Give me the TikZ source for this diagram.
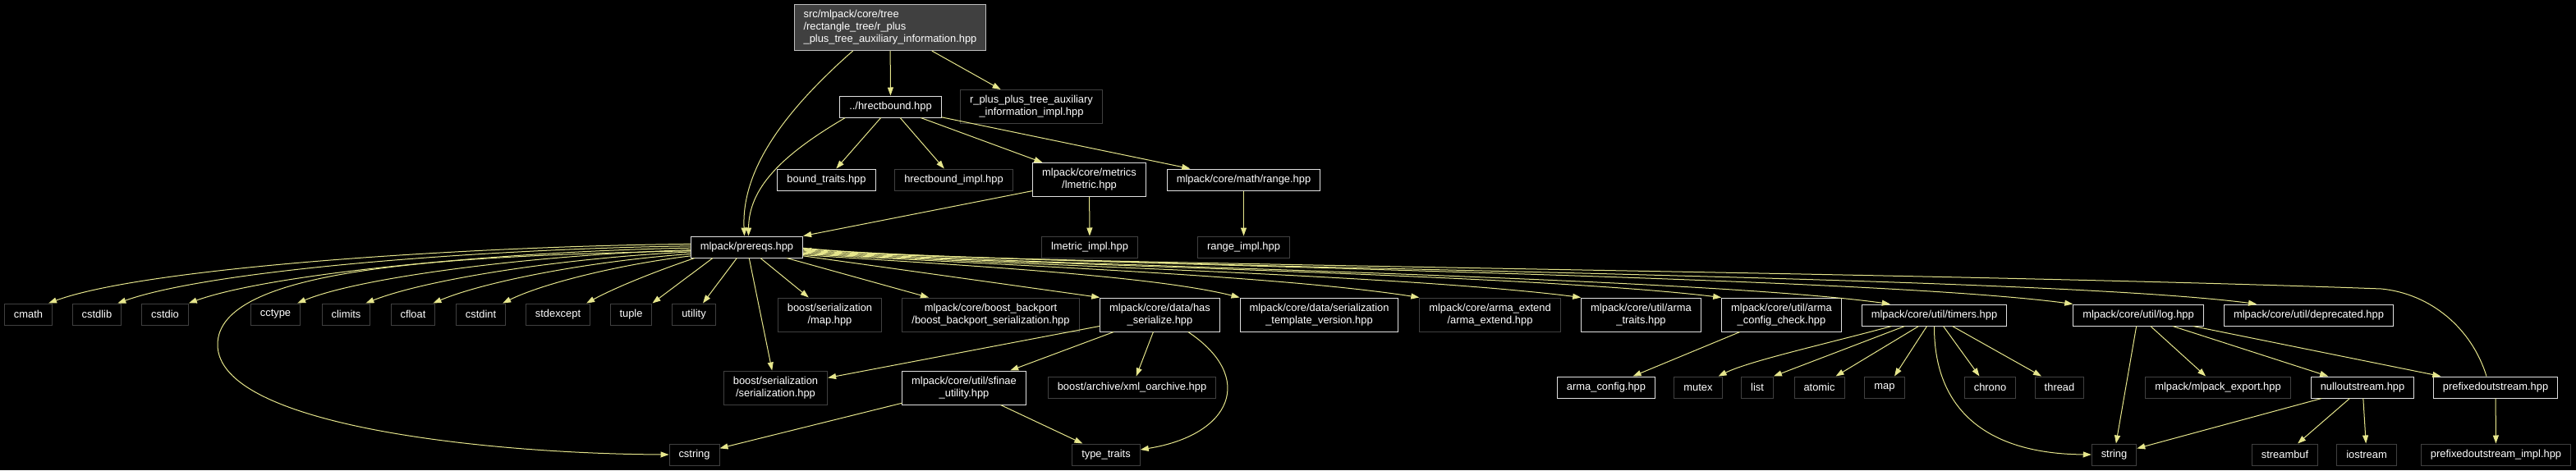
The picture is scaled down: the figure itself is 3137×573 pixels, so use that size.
\documentclass[tikz,border=0pt]{standalone}
\usepackage{fontspec}
\setmainfont{Liberation Sans}
\usepackage{xcolor}
\usepackage{tikz}
\usetikzlibrary{arrows.meta,calc}
\definecolor{depcol}{RGB}{230,230,140}
\tikzstyle{file}=[rectangle,draw=white!88!black,fill=black,text=white,line width=1pt,inner xsep=11.5pt,inner ysep=3pt,minimum height=26pt,align=center,font=\fontsize{12.9}{15}\selectfont]
\tikzstyle{extfile}=[file,draw=gray!50!black]
\tikzstyle{mainfile}=[file,fill=gray!50!black,draw=gray!50!white,align=left,minimum height=56pt]
\tikzstyle{twoline}=[minimum height=41pt]
\tikzstyle{dep}=[->,draw=depcol,fill=none,line width=1pt]

\begin{document}
\begin{tikzpicture}[x=1pt,y=-1pt,>={Triangle[length=10pt,width=7pt]}]
        \useasboundingbox (0,0) rectangle (3137,573);
        \fill [black] (0,0) rectangle (3137,573);

        \node at (1084,33.5) [mainfile] (main) {src/mlpack/core/tree\\/rectangle\_tree/r\_plus\\\_plus\_tree\_auxiliary\_information.hpp};
        \node at (1084.5,130) [file] (hrect) {../hrectbound.hpp};
        \node at (1256,130) [extfile,twoline] (rppimpl) {r\_plus\_plus\_tree\_auxiliary\\\_information\_impl.hpp};
        \node at (1006.5,219) [file] (boundtraits) {bound\_traits.hpp};
        \node at (1161.5,219) [extfile] (hrectimpl) {hrectbound\_impl.hpp};
        \node at (1326.5,219) [file,twoline] (lmetric) {mlpack/core/metrics\\/lmetric.hpp};
        \node at (1514.5,219) [file] (range) {mlpack/core/math/range.hpp};
        \node at (909.5,301) [file] (prereqs) {mlpack/prereqs.hpp};
        \node at (1327,301) [extfile] (lmetricimpl) {lmetric\_impl.hpp};
        \node at (1514.5,301) [extfile] (rangeimpl) {range\_impl.hpp};

        \node at (34.5,383) [extfile] (cmath) {cmath};
        \node at (118,383) [extfile] (cstdlib) {cstdlib};
        \node at (201,383) [extfile] (cstdio) {cstdio};
        \node at (335.5,383) [extfile] (cctype) {cctype};
        \node at (421.5,383) [extfile] (climits) {climits};
        \node at (503,383) [extfile] (cfloat) {cfloat};
        \node at (585.5,383) [extfile] (cstdint) {cstdint};
        \node at (679.5,383) [extfile] (stdexcept) {stdexcept};
        \node at (768.5,383) [extfile] (tuple) {tuple};
        \node at (845,383) [extfile] (utility) {utility};
        \node at (1010.5,383.5) [extfile,twoline] (bsermap) {boost/serialization\\/map.hpp};
        \node at (1206.5,383.5) [extfile,twoline] (backport) {mlpack/core/boost\_backport\\/boost\_backport\_serialization.hpp};
        \node at (1412.5,383.5) [file,twoline] (hasser) {mlpack/core/data/has\\\_serialize.hpp};
        \node at (1606.5,383.5) [file,twoline] (sertv) {mlpack/core/data/serialization\\\_template\_version.hpp};
        \node at (1814.5,383.5) [extfile,twoline] (armaext) {mlpack/core/arma\_extend\\/arma\_extend.hpp};
        \node at (1998.5,383.5) [file,twoline] (armatraits) {mlpack/core/util/arma\\\_traits.hpp};
        \node at (2169.5,383.5) [file,twoline] (armacc) {mlpack/core/util/arma\\\_config\_check.hpp};
        \node at (2355.5,384) [file] (timers) {mlpack/core/util/timers.hpp};
        \node at (2604,384) [file] (log) {mlpack/core/util/log.hpp};
        \node at (2811.5,384) [file] (deprecated) {mlpack/core/util/deprecated.hpp};

        \node at (944.5,472.5) [extfile,twoline] (bser) {boost/serialization\\/serialization.hpp};
        \node at (1174,472.5) [file,twoline] (sfinae) {mlpack/core/util/sfinae\\\_utility.hpp};
        \node at (1378.5,472) [extfile] (xmloa) {boost/archive/xml\_oarchive.hpp};
        \node at (1956,472) [file] (armaconfig) {arma\_config.hpp};
        \node at (2068,472) [extfile] (mutex) {mutex};
        \node at (2140,472) [extfile] (list) {list};
        \node at (2215.5,472) [extfile] (atomic) {atomic};
        \node at (2295,472) [extfile] (stdmap) {map};
        \node at (2423.5,472) [extfile] (chrono) {chrono};
        \node at (2508,472) [extfile] (thread) {thread};
        \node at (2701,472) [extfile] (mlexport) {mlpack/mlpack\_export.hpp};
        \node at (2877,472) [file] (nullout) {nulloutstream.hpp};
        \node at (3039,472) [file] (prefixed) {prefixedoutstream.hpp};

        \node at (845.5,554) [extfile] (cstring) {cstring};
        \node at (1347,554) [extfile] (typetraits) {type\_traits};
        \node at (2574.5,554) [extfile] (string) {string};
        \node at (2782.5,554) [extfile] (streambuf) {streambuf};
        \node at (2882,554) [extfile] (iostream) {iostream};
        \node at (3039.5,554) [extfile] (prefimpl) {prefixedoutstream\_impl.hpp};

        \draw [dep] (main) to (hrect);
        \draw [dep] (main) to (rppimpl);
        \draw [dep] ($(main.south west)+(72,0)$) .. controls (950,140) and (903,210) .. ($(prereqs.north)+(-3,0)$);
        \draw [dep] ($(hrect.south west)+(7,0)$) .. controls (950,190) and (912,230) .. ($(prereqs.north)+(2,0)$);
        \draw [dep] (hrect) to (boundtraits);
        \draw [dep] (hrect) to (hrectimpl);
        \draw [dep] (hrect) to (lmetric);
        \draw [dep] (hrect) to (range);
        \draw [dep] (lmetric) to (prereqs);
        \draw [dep] (lmetric) to (lmetricimpl);
        \draw [dep] (range) to (rangeimpl);

        \draw [dep] (prereqs.177) .. controls (580,300) and (180,325) .. ($(cmath.north east)+(-5,0)$);
        \draw [dep] (prereqs.179) .. controls (600,303) and (260,328) .. ($(cstdlib.north east)+(-5,0)$);
        \draw [dep] (prereqs.181) .. controls (620,306) and (330,333) .. (cstdio.north east);
        \draw [dep] (prereqs.183) .. controls (660,310) and (440,337) .. ($(cctype.north east)+(-4,0)$);
        \draw [dep] (prereqs.185) .. controls (690,314) and (520,340) .. ($(climits.north east)+(-6,0)$);
        \draw [dep] (prereqs.187) .. controls (720,318) and (590,343) .. ($(cfloat.north east)+(-3,0)$);
        \draw [dep] (prereqs.189) .. controls (750,323) and (660,346) .. ($(cstdint.north east)+(-4,0)$);
        \draw [dep] (prereqs.192) .. controls (800,330) and (750,350) .. ($(stdexcept.north east)+(-5,0)$);
        \draw [dep] (prereqs.198) to (tuple.north east);
        \draw [dep] (prereqs.228) to ($(utility.north)+(11,0)$);
        \draw [dep] (prereqs.184) .. controls (520,312) and (265,330) .. (265,420) .. controls (265,520) and (600,553) .. (cstring.west);
        \draw [dep] (prereqs) to (bsermap);
        \draw [dep] (prereqs) to (bser);
        \draw [dep] (prereqs) to (backport);
        \draw [dep] (prereqs.351) to (hasser.north west);
        \draw [dep] (prereqs.352) .. controls (1150,322) and (1400,335) .. (sertv.north west);
        \draw [dep] (prereqs.353) .. controls (1200,322) and (1550,335) .. (armaext.north west);
        \draw [dep] (prereqs.354) .. controls (1200,322) and (1700,334) .. (armatraits.north west);
        \draw [dep] (prereqs.355) .. controls (1200,322) and (1850,333) .. (armacc.north west);
        \draw [dep] (prereqs.356) .. controls (1200,322) and (2050,336) .. ($(timers.north west)+(35,0)$);
        \draw [dep] (prereqs.358) .. controls (1200,322) and (2250,334) .. (log.north west);
        \draw [dep] (prereqs.359) .. controls (1200,326) and (2450,332) .. ($(deprecated.north west)+(40,0)$);
        \draw [dep] ($(prefixed.north)+(-11,0)$) .. controls (3010,400) and (2960,358) .. (2900,352) .. controls (2300,330) and (1200,322) .. (prereqs.357);

        \draw [dep] (hasser) to (bser);
        \draw [dep] (hasser) to (sfinae);
        \draw [dep] (hasser) to (xmloa);
        \draw [dep] ($(hasser.south east)+(-39,0)$) .. controls (1530,460) and (1500,530) .. ($(typetraits.east)+(0,-6)$);
        \draw [dep] (sfinae) to (cstring);
        \draw [dep] (sfinae) to (typetraits);

        \draw [dep] (armacc) to (armaconfig);
        \draw [dep] ($(timers.south)+(-52,0)$) .. controls (2220,420) and (2130,440) .. ($(mutex.north east)+(-5,0)$);
        \draw [dep] ($(timers.south)+(-36,0)$) to (list.north east);
        \draw [dep] ($(timers.south)+(-19,0)$) to ($(atomic.north east)+(-11,0)$);
        \draw [dep] ($(timers.south)+(-9,0)$) to ($(stdmap.north)+(12,0)$);
        \draw [dep] ($(timers.south)+(11,0)$) to ($(chrono.north)+(-13,0)$);
        \draw [dep] ($(timers.south)+(22,0)$) to ($(thread.north)+(-22,0)$);
        \draw [dep] (timers.south) .. controls (2355,500) and (2420,553) .. (string.west);

        \draw [dep] (log) to (string);
        \draw [dep] (log) to (mlexport);
        \draw [dep] (log) to (nullout);
        \draw [dep] (log) to (prefixed);
        \draw [dep] (nullout) to (string);
        \draw [dep] (nullout) to (streambuf);
        \draw [dep] (nullout) to (iostream);
        \draw [dep] (prefixed) to (prefimpl);
\end{tikzpicture}
\end{document}
